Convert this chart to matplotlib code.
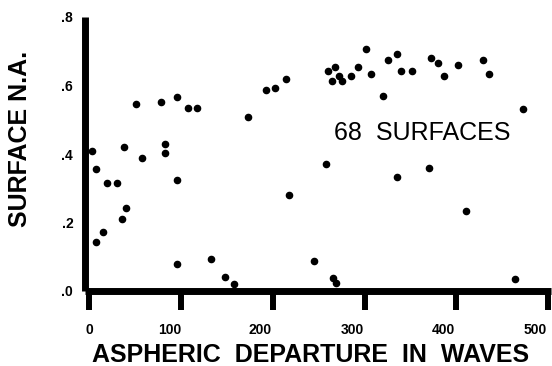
import matplotlib.pyplot as plt
import matplotlib.transforms as mtransforms

# values
departure = [3, 8, 8, 15, 20, 30, 36, 40, 38, 51, 58, 78, 83, 83, 96, 96, 96,
             108, 118, 133, 148, 158, 173, 193, 203, 215, 218, 245, 258, 260,
             268, 265, 272, 275, 285, 293, 302, 307, 320, 325, 335, 340, 352,
             335, 370, 372, 380, 387, 402, 410, 429, 435, 472, 464, 266, 269]
surface_na = [0.410, 0.356, 0.144, 0.171, 0.316, 0.316, 0.211, 0.243, 0.421,
              0.547, 0.388, 0.553, 0.429, 0.402, 0.567, 0.324, 0.079, 0.534,
              0.534, 0.094, 0.041, 0.021, 0.508, 0.588, 0.594, 0.620, 0.280,
              0.089, 0.372, 0.641, 0.653, 0.614, 0.627, 0.614, 0.627, 0.653,
              0.706, 0.634, 0.569, 0.673, 0.693, 0.641, 0.641, 0.333, 0.359,
              0.681, 0.667, 0.628, 0.661, 0.234, 0.673, 0.634, 0.530, 0.036,
              0.039, 0.022]

x_ticks = [0, 100, 200, 300, 400, 500]
y_ticks = [0.0, 0.2, 0.4, 0.6, 0.8]
y_tick_labels = ['.0', '.2', '.4', '.6', '.8']

plt.rcParams['font.family'] = 'Liberation Sans'

fig = plt.figure(figsize=(5.52, 3.66), dpi=100)
ax = fig.add_axes([85 / 552, 75 / 366, 466 / 552, 274 / 366])

ax.scatter(departure, surface_na, s=20, color='black', zorder=3, clip_on=False)

ax.set_xlim(-4.4, 503)
ax.set_ylim(0, 0.8)

for side in ['top', 'right']:
    ax.spines[side].set_visible(False)
for side in ['left', 'bottom']:
    ax.spines[side].set_linewidth(5)
    ax.spines[side].set_capstyle('butt')

ax.set_xticks(x_ticks)
ax.set_xticklabels([str(t) for t in x_ticks], fontsize=10, fontweight='bold')
ax.set_yticks(y_ticks)
ax.set_yticklabels(y_tick_labels, fontsize=10, fontweight='bold')
ax.tick_params(axis='x', direction='out', length=14, width=4.3, pad=9)
ax.tick_params(axis='y', length=0, pad=8.5)

# the printed labels sit a little left of their tick marks
shifts_px = [0, -11, -13, -12, -13, -13]
for lab, dx in zip(ax.get_xticklabels(), shifts_px):
    off = mtransforms.ScaledTranslation(dx / 100, 0, fig.dpi_scale_trans)
    lab.set_transform(lab.get_transform() + off)

ax.set_xlabel('ASPHERIC  DEPARTURE  IN  WAVES', fontsize=18, fontweight='bold')
ax.xaxis.label.set_verticalalignment('center')
ax.xaxis.set_label_coords(0.483, -0.232)
ax.set_ylabel('SURFACE N.A.', fontsize=18, fontweight='bold')
ax.yaxis.label.set_verticalalignment('center')
ax.yaxis.set_label_coords(-0.14, 0.554)

ax.text(363, 0.462, '68  SURFACES', fontsize=18, ha='center', va='center')

fig.savefig('out.png', dpi=100)
